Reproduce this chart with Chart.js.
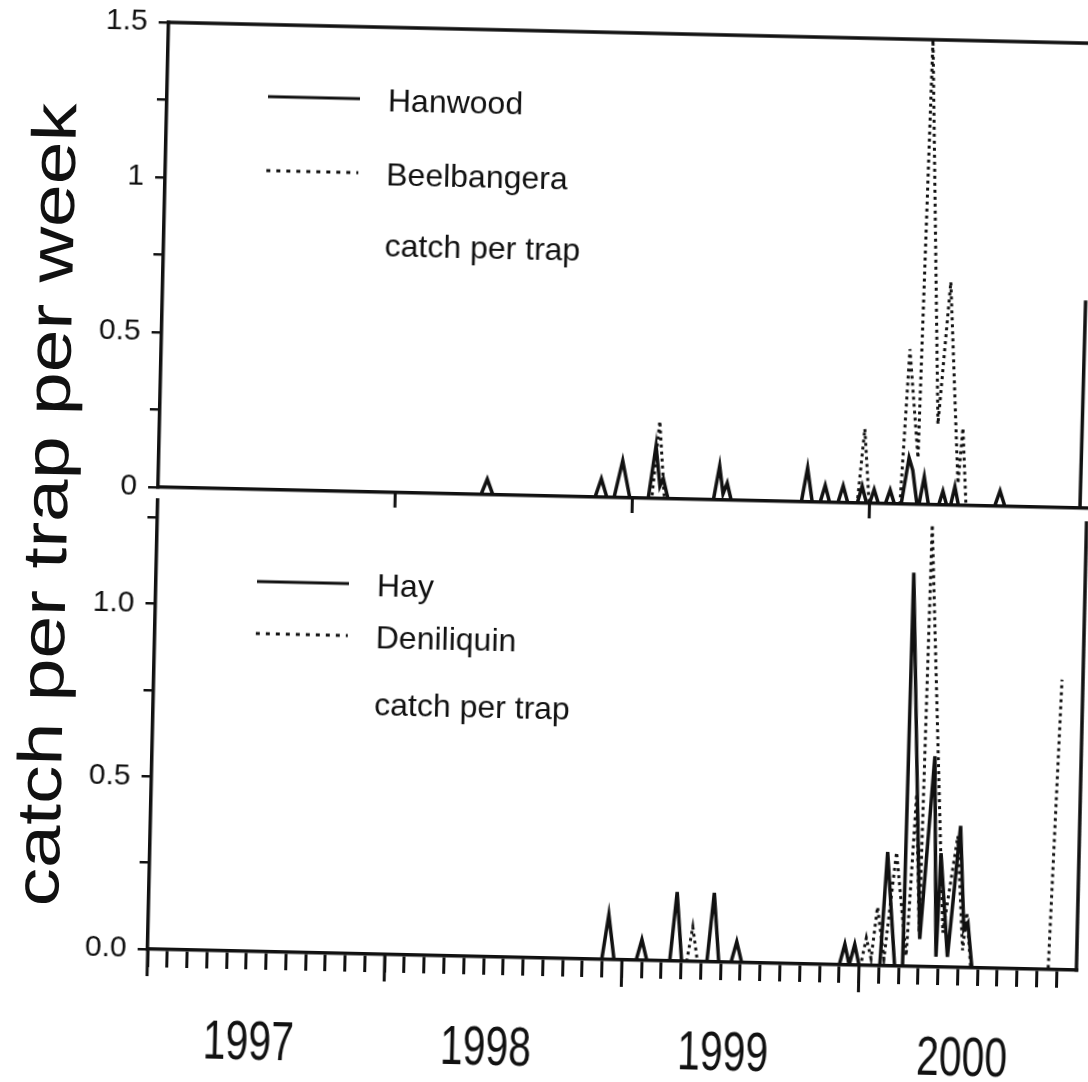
<!DOCTYPE html>
<html>
<head>
<meta charset="utf-8">
<script src="https://cdn.jsdelivr.net/npm/chart.js@4.4.1/dist/chart.umd.min.js"></script>
<style>
html, body { margin: 0; padding: 0; background: #fff; width: 1088px; height: 1082px; overflow: hidden; }
#fig { position: absolute; left: 0; top: 0; width: 1088px; height: 1082px; transform: rotate(1.3deg); transform-origin: 544px 541px; }
#fig canvas { position: absolute; left: 0; }
#ytitle { position: absolute; left: 45px; top: 516px; font: 62px 'Liberation Sans', Arial, sans-serif; color: #111; white-space: nowrap; transform: translate(-50%, -50%) rotate(-90deg) scaleX(1.24); }
</style>
</head>
<body>
<div id="fig">
  <div id="ytitle"></div>
  <canvas id="topChart" width="1088" height="540" style="top:0"></canvas>
  <canvas id="bottomChart" width="1088" height="602" style="top:480px"></canvas>
</div>
<script>
// x values are months since 1 Jan 1997
const yearLabels = ['1997', '1998', '1999', '2000'];
const yearLabelAt = [5.2, 17.2, 29.2, 41.3];
const yearStarts = [0, 12, 24, 36];
const lastMonth = 47;

const topYTicks = [0, 0.25, 0.5, 0.75, 1, 1.25, 1.5];
const topYLabels = ['0', '', '0.5', '', '1', '', '1.5'];
const bottomYTicks = [0, 0.25, 0.5, 0.75, 1, 1.25];
const bottomYLabels = ['0.0', '', '0.5', '', '1.0', ''];

const yTitle = 'catch per trap per week';
const noteText = 'catch per trap';

// upper panel
const hanwoodT = [0, 16.34, 16.64, 16.94, 22.11, 22.41, 22.71, 23.07, 23.47, 23.87, 24.8, 25.14, 25.38, 25.54, 25.8,
  28.1, 28.38, 28.58, 28.78, 29.0, 32.55, 32.83, 33.1, 33.5, 33.74, 33.98, 34.4, 34.65, 34.9, 35.38, 35.61, 35.85,
  36.0, 36.22, 36.45, 36.8, 37.03, 37.26, 37.6, 37.95, 38.15, 38.4, 38.5, 38.74, 38.98, 39.5, 39.7, 39.9,
  40.1, 40.3, 40.5, 42.33, 42.59, 42.85, 46.65, 46.7];
const hanwoodV = [0, 0, 0.05, 0, 0, 0.06, 0, 0, 0.12, 0, 0, 0.17, 0.04, 0.065, 0,
  0, 0.11, 0.02, 0.055, 0, 0, 0.11, 0, 0, 0.055, 0, 0, 0.055, 0, 0, 0.055, 0,
  0, 0.045, 0, 0, 0.045, 0, 0, 0.15, 0.11, 0, 0, 0.09, 0, 0, 0.045, 0,
  0, 0.06, 0, 0, 0.05, 0, 0, 0.67];
const beelT = [0, 24.98, 25.3, 25.62, 35.38, 35.68, 35.98, 37.54, 37.87, 38.4, 38.68, 39.37, 39.86, 40.45, 40.64, 40.88, 47];
const beelV = [0, 0, 0.25, 0, 0, 0.24, 0, 0, 0.5, 0.15, 1.5, 0.26, 0.72, 0.07, 0.25, 0, 0];

// lower panel
const hayT = [0, 22.98, 23.29, 23.6, 24.72, 24.99, 25.26, 26.42, 26.72, 27.02, 28.3, 28.6, 28.9, 29.52, 29.79, 30.06,
  35.0, 35.26, 35.5, 35.76, 36.0, 37.05, 37.32, 37.8, 38.2, 38.32, 39.04, 39.6, 39.88, 40.02, 40.46,
  40.98, 41.26, 41.46, 41.71, 47];
const hayV = [0, 0, 0.13, 0, 0, 0.06, 0, 0, 0.2, 0, 0, 0.2, 0, 0, 0.06, 0,
  0, 0.06, 0, 0.06, 0, 0, 0.33, 0, 0, 1.14, 0.08, 0.61, 0.03, 0.33, 0.03,
  0.41, 0.11, 0.13, 0, 0];
const deniT = [0, 27.28, 27.55, 27.82, 36.08, 36.34, 36.6, 36.87, 37.25, 37.77, 38.37, 38.72, 39.0, 39.2, 40.2,
  40.85, 41.22, 41.39, 41.65, 45.57, 45.94];
const deniV = [0, 0, 0.1, 0, 0, 0.08, 0.02, 0.17, 0.02, 0.33, 0.03, 0.5, 0.1, 1.28, 0.1,
  0.38, 0.05, 0.16, 0, 0, 0.84];

const INK = '#111';
const SANS = "'Liberation Sans', Arial, sans-serif";

document.getElementById('ytitle').textContent = yTitle;

const pts = (t, v) => t.map((x, i) => ({ x, y: v[i] }));
const solid = (label, data) => ({ label, data, borderColor: INK, borderWidth: 3.5, pointRadius: 0, tension: 0, fill: false });
const dotted = (label, data) => ({ label, data, borderColor: INK, borderWidth: 3, borderDash: [3, 4], pointRadius: 0, tension: 0, fill: false });

// frame edges, long year ticks, condensed year labels and the in-panel key
const framePlugin = {
  id: 'frame',
  afterDraw(chart, args, o) {
    const { ctx, chartArea: a } = chart;
    const x = chart.scales.x;
    ctx.save();
    ctx.strokeStyle = INK;
    ctx.lineWidth = 3.5;
    ctx.beginPath();
    if (o.top) { ctx.moveTo(a.left - 1.5, a.top); ctx.lineTo(a.right, a.top); }
    if (o.right) { ctx.moveTo(a.right, a.top); ctx.lineTo(a.right, a.bottom + 1.5); }
    ctx.stroke();
    ctx.lineWidth = 3;
    ctx.beginPath();
    o.longTicks.forEach(m => {
      const px = x.getPixelForValue(m);
      ctx.moveTo(px, a.bottom);
      ctx.lineTo(px, a.bottom + o.longLen);
    });
    ctx.stroke();

    ctx.fillStyle = INK;
    if (o.years) {
      ctx.font = '56px ' + SANS;
      ctx.textAlign = 'center';
      ctx.textBaseline = 'alphabetic';
      yearLabels.forEach((lab, i) => {
        ctx.save();
        ctx.translate(x.getPixelForValue(yearLabelAt[i]), a.bottom + 108);
        ctx.scale(0.73, 1);
        ctx.fillText(lab, 0, 0);
        ctx.restore();
      });
    }

    ctx.font = '32px ' + SANS;
    ctx.textAlign = 'left';
    ctx.textBaseline = 'middle';
    o.rows.forEach(r => {
      if (r.ds !== undefined) {
        const ds = chart.data.datasets[r.ds];
        ctx.lineWidth = 3;
        ctx.setLineDash(ds.borderDash ? [4, 6] : []);
        ctx.beginPath();
        ctx.moveTo(a.left + 101, a.top + r.lineY);
        ctx.lineTo(a.left + 193, a.top + r.lineY);
        ctx.stroke();
        ctx.setLineDash([]);
        ctx.fillText(ds.label, a.left + 221, a.top + r.textY);
      } else {
        ctx.fillText(noteText, a.left + 221, a.top + r.textY);
      }
    });
    ctx.restore();
  }
};

function panel(id, datasets, o) {
  const hasX = o.xTicks.length > 0;
  return new Chart(document.getElementById(id), {
    type: 'line',
    data: { datasets },
    plugins: [framePlugin],
    options: {
      responsive: false,
      animation: false,
      layout: { padding: { top: o.padTop, right: 2, left: 0, bottom: 0 } },
      plugins: { legend: { display: false }, tooltip: { enabled: false }, frame: o.frame },
      scales: {
        x: {
          type: 'linear', min: 0, max: lastMonth,
          afterFit: s => { s.height = o.xHeight; },
          afterBuildTicks: s => { s.ticks = o.xTicks.map(v => ({ value: v })); },
          grid: { display: hasX, drawOnChartArea: false, tickLength: 18, lineWidth: 3, color: INK },
          border: { display: true, width: 3.5, color: INK },
          ticks: { display: false }
        },
        y: {
          min: 0, max: o.yMax,
          afterFit: s => { s.width = 157; },
          afterBuildTicks: s => { s.ticks = o.yTicks.map(v => ({ value: v })); },
          grid: { drawOnChartArea: false, tickLength: 10, lineWidth: 2.5, color: INK },
          border: { width: 3.5, color: INK },
          ticks: { padding: 11, color: INK, font: { family: SANS, size: 30 }, callback: (v, i) => o.yLabels[i] }
        }
      }
    }
  });
}

panel('topChart', [
  solid('Hanwood', pts(hanwoodT, hanwoodV)),
  dotted('Beelbangera', pts(beelT, beelV))
], {
  padTop: 31, xHeight: 44, yMax: 1.5, yTicks: topYTicks, yLabels: topYLabels, xTicks: [],
  frame: { top: true, right: false, years: false, longTicks: [12, 24, 36], longLen: 15,
    rows: [{ ds: 0, lineY: 72, textY: 75 }, { ds: 1, lineY: 146, textY: 149 }, { textY: 220 }] }
});

const monthTicks = Array.from({ length: 47 }, (_, i) => i);
panel('bottomChart', [
  solid('Hay', pts(hayT, hayV)),
  dotted('Deniliquin', pts(deniT, deniV))
], {
  padTop: 16, xHeight: 124, yMax: 1.3, yTicks: bottomYTicks, yLabels: bottomYLabels, xTicks: monthTicks,
  frame: { top: false, right: true, years: true, longTicks: yearStarts, longLen: 27,
    rows: [{ ds: 0, lineY: 79, textY: 82 }, { ds: 1, lineY: 131, textY: 134 }, { textY: 201 }] }
});
</script>
</body>
</html>
